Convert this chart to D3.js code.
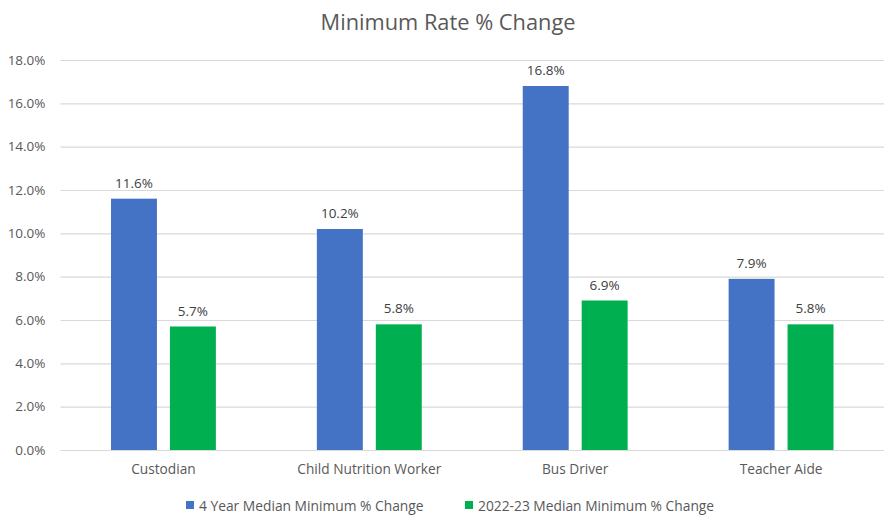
<!DOCTYPE html>
<html><head><meta charset="utf-8">
<script src="https://cdn.jsdelivr.net/npm/d3@7"></script>
<style>body{margin:0;background:#fff}svg{display:block;font-family:"Open Sans",sans-serif}</style>
</head><body><svg id="c" width="895" height="527"></svg>
<script>
const categories = ["Custodian","Child Nutrition Worker","Bus Driver","Teacher Aide"];
const seriesNames = ["4 Year Median Minimum % Change","2022-23 Median Minimum % Change"];
const fourYear = [11.6, 10.2, 16.8, 7.9];
const year2223 = [5.7, 5.8, 6.9, 5.8];
const yTicks = [0,2,4,6,8,10,12,14,16,18];
const colors = ["#4472C4","#00B050"];
const title = "Minimum Rate % Change";

const svg = d3.select("#c");
const m = {l:60.5, r:884, t:60, b:450};
const x = d3.scaleBand().domain(categories).range([m.l, m.r]).paddingInner(0).paddingOuter(0);
const xs = d3.scaleBand().domain([0,1]).range([50.5, x.bandwidth()-50.5]).paddingInner(2-105/59);
const y = d3.scaleLinear().domain([0,18]).range([m.b, m.t]);
const txt = "#595959";

svg.append("text").attr("x",448).attr("y",30).attr("text-anchor","middle")
  .attr("font-size",21.8).attr("fill",txt).text(title);

const ya = svg.append("g").attr("transform",`translate(${m.l},0)`)
  .call(d3.axisLeft(y).tickValues(yTicks).tickSize(-(m.r-m.l)).tickPadding(15).tickFormat(d=>d.toFixed(1)+"%"));
ya.select(".domain").remove();
ya.selectAll("line").attr("stroke","#d9d9d9").attr("stroke-width",1.2);
ya.selectAll("text").attr("fill",txt).attr("font-size",13.5).attr("font-family","Open Sans");

const xa = svg.append("g").attr("transform",`translate(0,${m.b})`)
  .call(d3.axisBottom(x).tickSize(0).tickPadding(14));
xa.select(".domain").remove();
xa.selectAll("text").attr("fill",txt).attr("font-size",13.7).attr("font-family","Open Sans");

const series = [fourYear, year2223];
series.forEach((vals,si)=>{
  const g = svg.append("g");
  g.selectAll("rect").data(vals).join("rect")
    .attr("x",(d,i)=>x(categories[i])+xs(si)).attr("width",xs.bandwidth())
    .attr("y",d=>y(d)).attr("height",d=>y(0)-y(d)).attr("fill",colors[si]);
  g.selectAll("text").data(vals).join("text")
    .attr("x",(d,i)=>x(categories[i])+xs(si)+xs.bandwidth()/2)
    .attr("y",d=>y(d)-11).attr("text-anchor","middle")
    .attr("font-size",13.5).attr("fill","#404040").text(d=>d.toFixed(1)+"%");
});

const leg = [{x:186},{x:465}];
seriesNames.forEach((n,i)=>{
  svg.append("rect").attr("x",leg[i].x).attr("y",501).attr("width",8).attr("height",8).attr("fill",colors[i]);
  svg.append("text").attr("x",leg[i].x+13).attr("y",511).attr("font-size",13.8).attr("fill",txt).text(n);
});
</script></body></html>
